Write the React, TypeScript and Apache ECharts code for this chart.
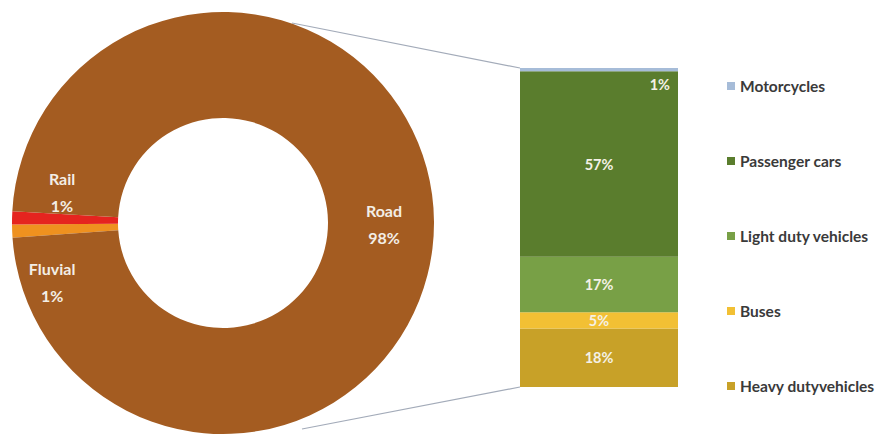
import React, { useEffect, useRef } from "react";
import * as echarts from "echarts";

const modeNames = ["Fluvial", "Rail", "Road"];
const modeValues = [1, 1, 98];
const modeColors = ["#EF911F", "#E5241F", "#A45C21"];

// bottom-to-top stacking order
const roadNames = ["Heavy dutyvehicles", "Buses", "Light duty vehicles", "Passenger cars", "Motorcycles"];
const roadValues = [18, 5, 17, 57, 1];
const roadColors = ["#C8A128", "#F2C034", "#78A046", "#5A7D2D", "#A6BCD8"];
const legendOrder = ["Motorcycles", "Passenger cars", "Light duty vehicles", "Buses", "Heavy dutyvehicles"];

const FONT = "Lato, 'Open Sans', sans-serif";

export default function App() {
  const ref = useRef<HTMLDivElement>(null);
  useEffect(() => {
    if (!ref.current) return;
    const chart = echarts.init(ref.current, null, { renderer: "svg" });
    const total = roadValues.reduce((a, b) => a + b, 0);
    const labelDelta: Record<string, [number, number]> = {
      Rail: [0, -27],
      Fluvial: [-10, 53],
      Road: [0, 2],
    };
    const barSeries = roadNames.map((name, i) => ({
      name,
      type: "bar",
      stack: "road",
      barWidth: "100%",
      data: [roadValues[i]],
      itemStyle: { color: roadColors[i] },
      label: {
        show: true,
        formatter: "{c}%",
        color: "#F4F1E6",
        fontFamily: FONT,
        fontWeight: "bold",
        fontSize: 14.5,
        ...(name === "Motorcycles"
          ? { position: ["100%", "100%"], align: "right", verticalAlign: "top", offset: [-8, 6] }
          : { position: "inside" }),
      },
    }));
    chart.setOption({
      animation: false,
      backgroundColor: "#ffffff",
      textStyle: { fontFamily: FONT },
      legend: {
        data: legendOrder,
        orient: "vertical",
        left: 722,
        top: 73,
        itemWidth: 8,
        itemHeight: 8,
        itemGap: 59,
        icon: "rect",
        textStyle: { fontSize: 15.5, fontWeight: "bold", color: "#3A3A3A", fontFamily: FONT },
      },
      grid: { left: 520, top: 68, width: 158, height: 319 },
      xAxis: { type: "category", data: ["Road"], show: false },
      yAxis: { type: "value", min: 0, max: total, show: false },
      series: [
        {
          type: "pie",
          center: [223, 223],
          radius: [105, 211],
          startAngle: 184,
          clockwise: true,
          data: modeNames.map((n, i) => ({ name: n, value: modeValues[i], itemStyle: { color: modeColors[i] } })),
          label: {
            show: true,
            position: "inside",
            formatter: "{b}\n{c}%",
            color: "#F3EEE6",
            fontFamily: FONT,
            fontWeight: "bold",
            fontSize: 16,
            lineHeight: 27,
            align: "center",
          },
          labelLine: { show: false },
          labelLayout: (params: any) => {
            const name = modeNames[params.dataIndex];
            const d = labelDelta[name] || [0, 0];
            return { dx: d[0], dy: d[1] };
          },
          emphasis: { disabled: true },
        },
        ...barSeries,
      ],
      graphic: [
        { type: "line", shape: { x1: 292, y1: 23, x2: 520, y2: 68 }, style: { stroke: "#A3ABB9", lineWidth: 1.2 } },
        { type: "line", shape: { x1: 302, y1: 429, x2: 520, y2: 387 }, style: { stroke: "#A3ABB9", lineWidth: 1.2 } },
      ],
    });
    return () => chart.dispose();
  }, []);
  return (
    <div
      ref={ref}
      style={{ position: "fixed", left: 0, top: 0, width: 879, height: 437, background: "#fff" }}
    />
  );
}
